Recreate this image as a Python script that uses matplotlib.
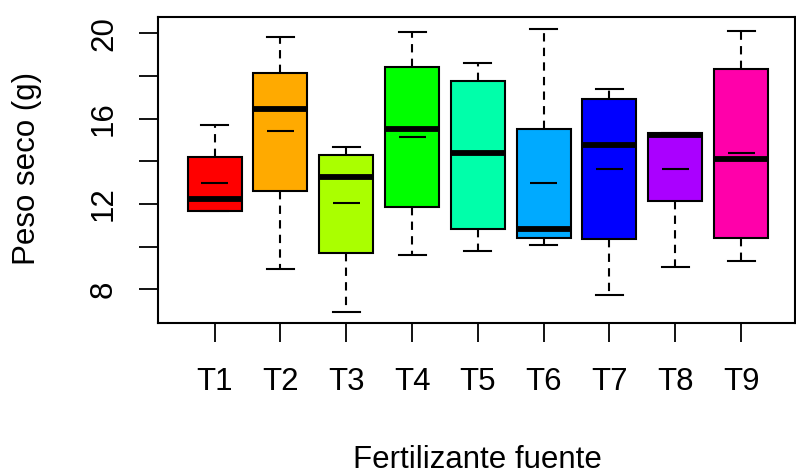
import matplotlib
matplotlib.use("Agg")
import matplotlib.pyplot as plt
import numpy as np

plt.rcParams['font.family'] = ['Liberation Sans', 'DejaVu Sans']

categories = ["T1", "T2", "T3", "T4", "T5", "T6", "T7", "T8", "T9"]
whisker_low = [11.66, 8.95, 6.95, 9.59, 9.78, 10.06, 7.72, 9.03, 9.31]
q1 = [11.66, 12.59, 9.69, 11.84, 10.81, 10.42, 10.34, 12.12, 10.42]
medians = [12.22, 16.45, 13.26, 15.51, 14.37, 10.81, 14.76, 15.22, 14.11]
q3 = [14.20, 18.14, 14.28, 18.41, 17.75, 15.51, 16.91, 15.31, 18.31]
whisker_high = [15.69, 19.83, 14.67, 20.05, 18.61, 20.20, 17.37, 15.31, 20.11]
means = [12.97, 15.41, 12.03, 15.12, 14.38, 12.97, 13.62, 13.62, 14.37]
colors = ["#FF0000", "#FFAA00", "#AAFF00", "#00FF00", "#00FFAA",
          "#00AAFF", "#0000FF", "#AA00FF", "#FF00AA"]
yticks = [8, 10, 12, 14, 16, 18, 20]
ylabels = ["8", "", "12", "", "16", "", "20"]

fig = plt.figure(figsize=(7.96, 4.75), dpi=100)
ax = fig.add_axes([158/796, 1-323/475, (795-158)/796, (323-17)/475])

stats = []
for i, c in enumerate(categories):
    stats.append(dict(label=c, whislo=whisker_low[i], q1=q1[i], med=medians[i],
                      q3=q3[i], whishi=whisker_high[i], fliers=[]))

pos = np.arange(1, len(categories) + 1)
width = 0.82
bp = ax.bxp(stats, positions=pos, widths=width, patch_artist=True, showfliers=False,
            boxprops=dict(linewidth=1.5, edgecolor='black'),
            medianprops=dict(color='black', linewidth=4.2, solid_capstyle='butt'),
            whiskerprops=dict(color='black', linewidth=1.5, linestyle=(0, (4, 3))),
            capprops=dict(color='black', linewidth=1.5))
for patch, col in zip(bp['boxes'], colors):
    patch.set_facecolor(col)

ax.hlines(means, pos - width/4, pos + width/4, colors='black', linewidth=1.5, zorder=5)

ax.set_xlim(0.14, 9.82)
ax.set_ylim(6.42, 20.76)
ax.set_yticks(yticks)
ax.set_yticklabels(ylabels, rotation=90, va='center')
ax.set_xticks(pos)
ax.set_xticklabels(categories)
ax.tick_params(axis='both', length=13.5, width=1.3, labelsize=22.5, colors='black')
ax.tick_params(axis='x', pad=18.5)
ax.tick_params(axis='y', pad=14.5)
for s in ax.spines.values():
    s.set_linewidth(1.5)

fig.text((357+598)/2/796, 1-468/475, "Fertilizante fuente", ha='center', va='baseline', fontsize=22.5)
fig.text(27/796, 1-168/475, "Peso seco (g)", ha='center', va='center', rotation=90, fontsize=22.5)

fig.savefig("out.png", dpi=100)
